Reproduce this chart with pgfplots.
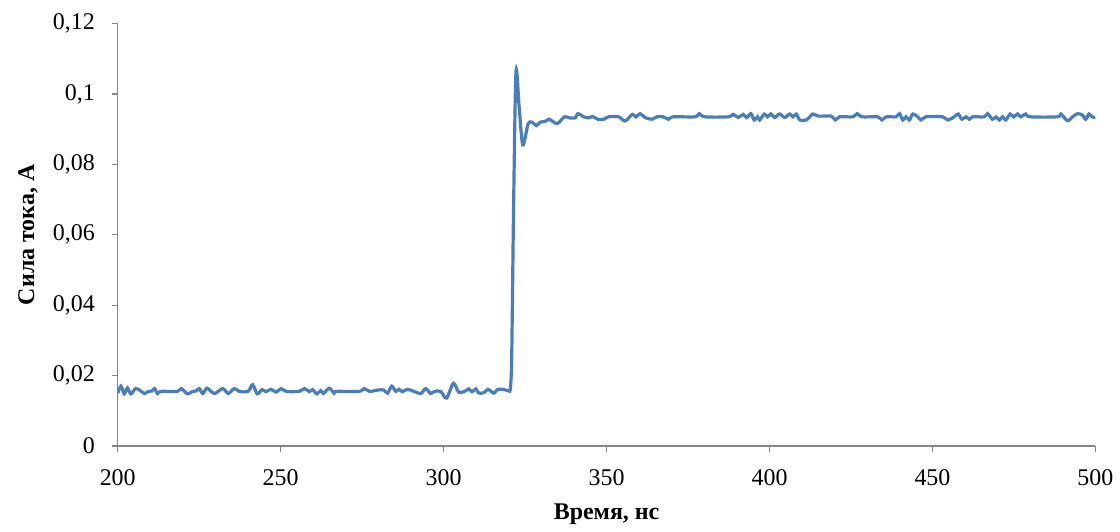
\documentclass[border=0pt]{standalone}
\usepackage{fontspec}
\setmainfont{Liberation Serif}
\usepackage{pgfplots}
\pgfplotsset{compat=1.18}
\definecolor{excelblue}{RGB}{74,126,187}
\definecolor{axgray}{RGB}{134,134,134}
\begin{document}
\begin{tikzpicture}
\path (-59bp,-38.5bp) rectangle (501bp,223.5bp);
\begin{axis}[
  at={(0,0)}, anchor=south west,
  scale only axis,
  width=490bp, height=211.7bp,
  xmin=200, xmax=500, ymin=0, ymax=0.12,
  axis lines=left,
  axis line style={axgray, line width=0.6bp, -},
  tick style={axgray, line width=0.6bp},
  tick align=outside,
  major tick length=3bp,
  xtick={200,250,300,350,400,450,500},
  xticklabels={200,250,300,350,400,450,500},
  ytick={0,0.02,0.04,0.06,0.08,0.1,0.12},
  yticklabels={0,{0,02},{0,04},{0,06},{0,08},{0,1},{0,12}},
  tick label style={font=\fontsize{12bp}{14bp}\selectfont, text=black},
  xticklabel style={yshift=-5.5bp},
  yticklabel style={xshift=-5bp},
  scaled y ticks=false,
  xlabel={\textbf{Время, нс}},
  ylabel={\textbf{Сила тока, А}},
  every axis x label/.style={at={(axis description cs:0.5,-0.1620)}, anchor=center, font=\fontsize{12bp}{14bp}\selectfont},
  every axis y label/.style={at={(axis description cs:-0.0918,0.5)}, anchor=center, rotate=90, font=\fontsize{12bp}{14bp}\selectfont},
]
\addplot[excelblue, line width=1.6bp, smooth, tension=0.5] coordinates {
(200.0,0.0150) (201.0,0.0170) (202.0,0.0148) (203.0,0.0165) (204.0,0.0148)
(205.5,0.0163) (206.8,0.0158) (208.2,0.0149) (209.5,0.0155) (210.5,0.0156)
(211.3,0.0163) (212.2,0.0149) (213.2,0.0155) (218.3,0.0155) (219.5,0.0163)
(221.4,0.0148) (223.0,0.0155) (224.0,0.0156) (225.0,0.0163) (226.1,0.0149)
(227.4,0.0164) (229.7,0.0149) (232.2,0.0163) (233.9,0.0149) (235.8,0.0163)
(237.3,0.0155) (240.0,0.0155) (241.4,0.0174) (242.8,0.0148) (244.3,0.0160)
(245.5,0.0154) (247.0,0.0161) (248.6,0.0153) (250.1,0.0163) (251.7,0.0155)
(255.7,0.0155) (257.3,0.0163) (258.8,0.0154) (259.8,0.0160) (261.1,0.0148)
(262.3,0.0157) (263.1,0.0149) (264.9,0.0164) (266.4,0.0150) (267.2,0.0155)
(274.1,0.0155) (275.6,0.0163) (277.3,0.0155) (279.9,0.0159) (281.6,0.0159)
(282.8,0.0150) (284.1,0.0170) (285.3,0.0155) (286.3,0.0161) (287.3,0.0154)
(288.9,0.0161) (290.9,0.0155) (293.0,0.0149) (294.5,0.0163) (296.0,0.0149)
(297.2,0.0155) (299.1,0.0155) (300.9,0.0136) (303.0,0.0178) (304.6,0.0153)
(306.5,0.0155) (307.7,0.0162) (308.7,0.0154) (309.9,0.0162) (310.8,0.0150)
(312.5,0.0152) (313.6,0.0161) (315.4,0.0150) (316.5,0.0160) (318.0,0.0161)
(319.0,0.0159) (320.0,0.0156) (320.5,0.0165) (320.9,0.0260) (321.5,0.0700)
(322.2,0.1062)
(323.2,0.0960) (324.3,0.0855) (325.9,0.0914) (327.1,0.0920) (328.4,0.0910)
(329.7,0.0920) (331.2,0.0922) (332.4,0.0928) (334.8,0.0916) (337.1,0.0935)
(338.6,0.0932) (340.4,0.0932) (341.2,0.0944) (343.0,0.0935) (344.5,0.0932)
(345.8,0.0936) (347.3,0.0928) (349.1,0.0928) (350.6,0.0935) (353.7,0.0935)
(355.7,0.0923) (357.9,0.0942) (359.0,0.0935) (360.3,0.0944) (361.8,0.0933)
(363.9,0.0928) (365.4,0.0935) (367.4,0.0935) (369.0,0.0928) (370.5,0.0935)
(377.1,0.0935) (378.4,0.0944) (380.2,0.0935) (387.3,0.0935) (388.9,0.0942)
(390.4,0.0933) (391.9,0.0942) (393.0,0.0933) (394.3,0.0944) (395.3,0.0926)
(396.3,0.0935) (397.0,0.0926) (398.4,0.0943) (399.4,0.0935) (400.4,0.0943)
(401.6,0.0933) (403.1,0.0943) (404.7,0.0933) (406.2,0.0943) (407.2,0.0935)
(408.2,0.0943) (409.3,0.0926) (411.3,0.0926) (413.3,0.0943) (414.9,0.0937)
(418.9,0.0937) (420.2,0.0926) (421.5,0.0935) (425.6,0.0935) (426.9,0.0944)
(428.3,0.0935) (433.2,0.0935) (434.5,0.0926) (435.8,0.0935) (438.8,0.0935)
(439.9,0.0944) (440.9,0.0926) (441.9,0.0935) (442.9,0.0926) (444.0,0.0943)
(445.5,0.0935) (446.5,0.0926) (448.0,0.0935) (453.1,0.0935) (454.7,0.0926)
(456.7,0.0935) (457.9,0.0943) (459.0,0.0928) (460.3,0.0935) (461.3,0.0928)
(462.3,0.0935) (465.9,0.0935) (466.9,0.0944) (468.4,0.0928) (469.5,0.0935)
(470.5,0.0926) (471.5,0.0935) (472.5,0.0926) (473.8,0.0943) (474.9,0.0935)
(476.1,0.0943) (477.1,0.0935) (478.6,0.0943) (480.0,0.0935) (488.3,0.0935)
(489.4,0.0943) (491.4,0.0924) (493.0,0.0935) (494.5,0.0944) (496.0,0.0940)
(497.0,0.0928) (498.0,0.0943) (499.0,0.0935) (500.0,0.0933)
};
\end{axis}
\end{tikzpicture}
\end{document}
